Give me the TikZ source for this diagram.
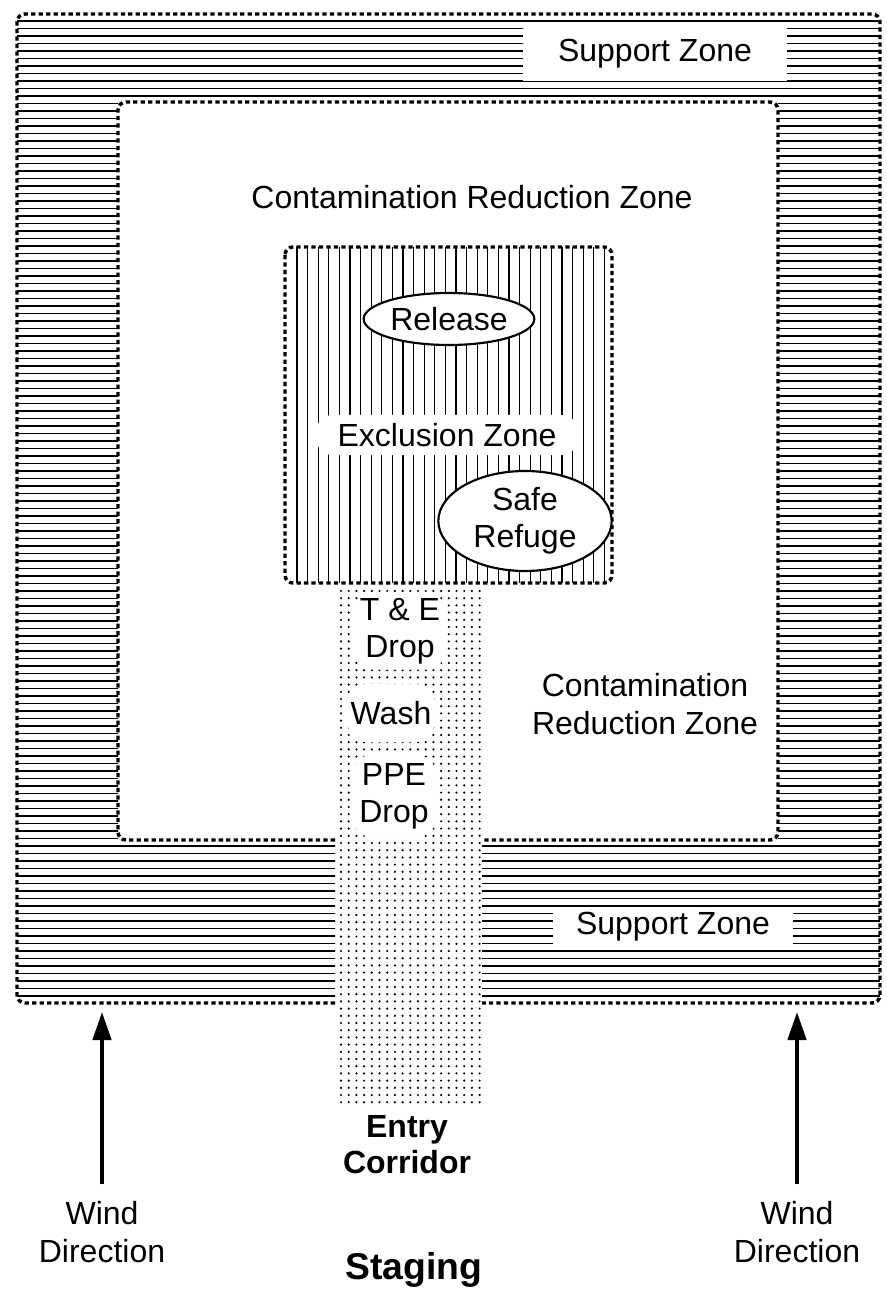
\documentclass[tikz,border=0pt]{standalone}
\usepackage{fontspec}
\setmainfont{Liberation Sans}
\usetikzlibrary{arrows.meta}
\usetikzlibrary{shapes.geometric}

\begin{document}
\begin{tikzpicture}[x=0.375pt, y=-0.375pt,
    every node/.style={font=\fontsize{12}{14}\selectfont, align=center},
    zoneborder/.style={line width=1.3pt, dash pattern=on 1.6pt off 1.2pt, rounded corners=3pt},
    hatch/.style={line width=0.4pt},
    clearbox/.style={fill=white, inner sep=0pt},
    station/.style={ellipse, draw, line width=0.8pt, fill=white, inner sep=0pt},
    windarrow/.style={line width=1.5pt, shorten <=3pt, -{Triangle[length=10.5pt, width=6.8pt]}}]
  \useasboundingbox (0,0) rectangle (887,1290);

  \begin{scope}
    \clip (17,14) rectangle (880,102) (17,102) rectangle (118,840) (778,102) rectangle (880,840)
          (17,840) rectangle (335,1003) (482,840) rectangle (880,1003);
    \foreach \y in {21,28.5,...,1000}
      \draw[hatch] (17,\y) -- (880,\y);
  \end{scope}

  \begin{scope}
    \clip[rounded corners=3pt] (285,247) rectangle (612,583);
    \foreach \x in {297,307.6,...,608}
      \draw[hatch] (\x,247) -- (\x,583);
  \end{scope}

  \foreach \x in {341,348.7,...,481}
    \foreach \y in {591,598.2,...,1108}
      \fill (\x,\y) circle (0.45pt);

  \draw[zoneborder] (335,1003) -- (17,1003) -- (17,14) -- (880,14) -- (880,1003) -- (482,1003);
  \draw[zoneborder] (335,840) -- (118,840) -- (118,102) -- (778,102) -- (778,840) -- (482,840);
  \draw[zoneborder] (285,247) rectangle (612,583);

  \node[clearbox, minimum width=99pt, minimum height=20pt] (support1) at (655,54) {Support Zone};
  \node[clearbox, minimum width=90pt, minimum height=15pt] (support2) at (673,927) {Support Zone};
  \node (crz1) at (472,197) {Contamination Reduction Zone};
  \node (crz2) at (645,704) {Contamination\\Reduction Zone};
  \node[clearbox, rounded corners=6pt, minimum width=98pt, minimum height=15pt] (exclusion) at (447,435) {Exclusion Zone};
  \node[station, minimum width=64pt, minimum height=19.5pt] (release) at (449,319) {Release};
  \node[station, minimum width=65pt, minimum height=37.5pt] (refuge) at (525,521) {Safe\\Refuge};

  \node[clearbox, rounded corners=8pt, minimum width=35pt, minimum height=29pt] (tedrop) at (400,631) {T \& E\\Drop};
  \node[clearbox, rounded corners=8pt, minimum width=33pt, minimum height=22pt] (wash) at (391,713) {Wash};
  \node[clearbox, rounded corners=8pt, minimum width=32pt, minimum height=31pt] (ppedrop) at (394,796) {PPE\\Drop};

  \node[font=\fontsize{12}{13.5}\selectfont\bfseries] (entry) at (407,1145) {Entry\\Corridor};
  \node[font=\fontsize{14}{16}\selectfont\bfseries] (staging) at (414,1270) {Staging};

  \node (windL) at (102,1232) {Wind\\Direction};
  \node (windR) at (797,1232) {Wind\\Direction};
  \coordinate (tipL) at (102,1012);
  \coordinate (tipR) at (797,1012);
  \draw[windarrow] (windL) -- (tipL);
  \draw[windarrow] (windR) -- (tipR);
\end{tikzpicture}
\end{document}
